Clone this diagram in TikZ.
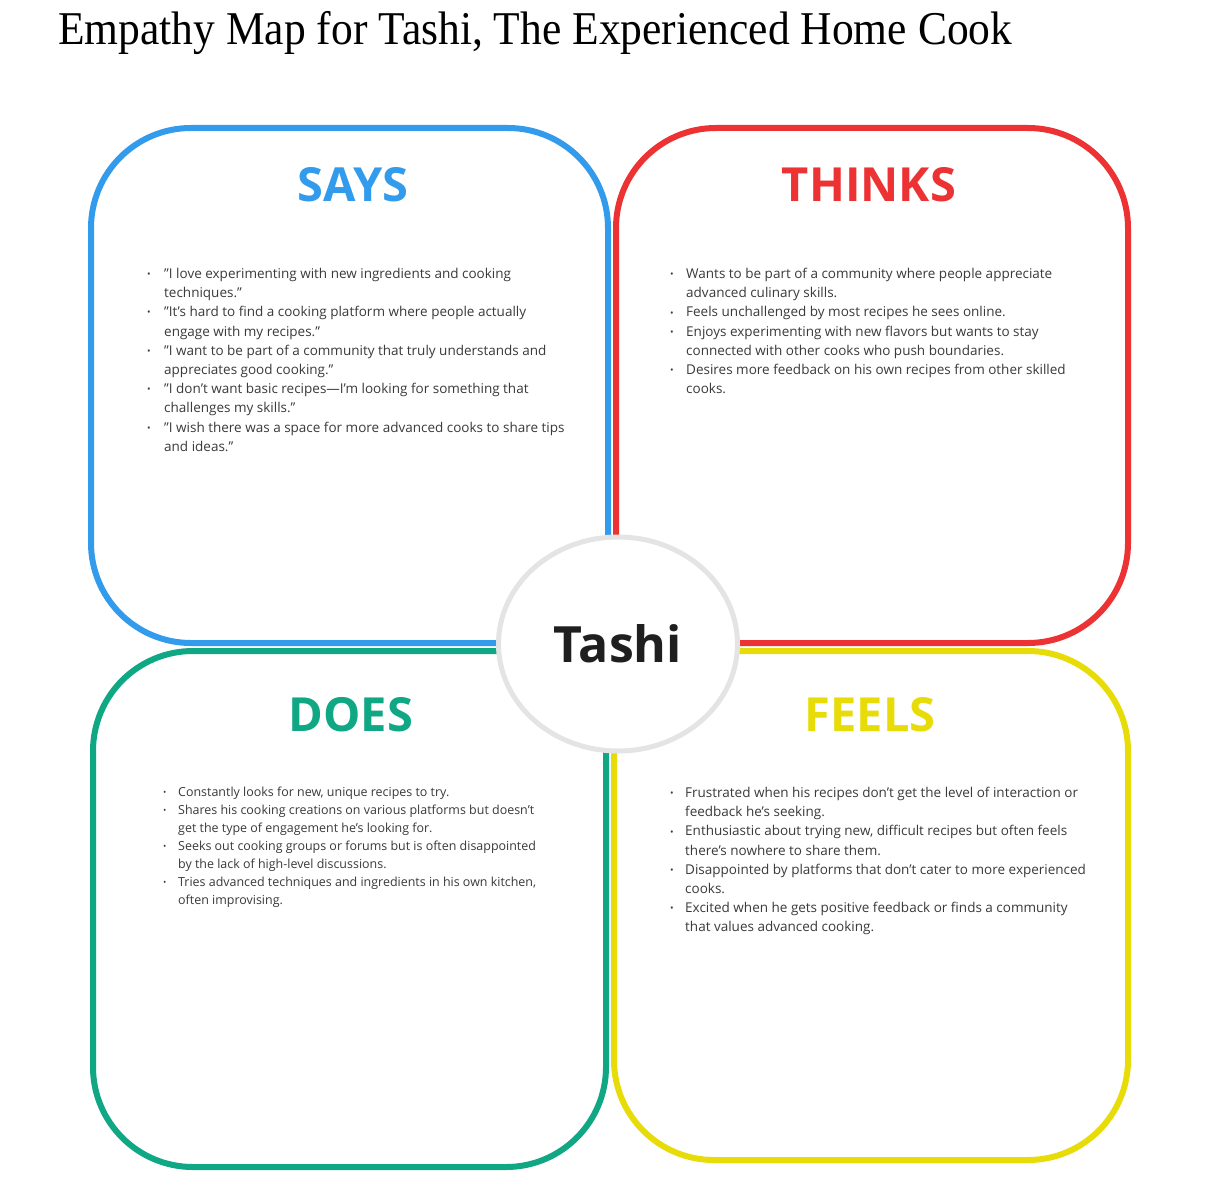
\documentclass[tikz,border=0pt]{standalone}
\usepackage{fontspec}
\usepackage{graphicx}
\usetikzlibrary{shapes.geometric}
\setmainfont{Open Sans}[Ligatures=ResetAll]
\newfontfamily\titlefont{Liberation Serif}

\definecolor{saysblue}{RGB}{51,155,236}
\definecolor{thinksred}{RGB}{236,50,50}
\definecolor{doesgreen}{RGB}{16,167,133}
\definecolor{feelsyellow}{RGB}{232,220,8}
\definecolor{bodygray}{RGB}{58,58,58}
\definecolor{ringgray}{RGB}{228,228,228}

% bullet and continuation indent for the lists
\newcommand\mapbul[1]{\makebox[#1][l]{\raisebox{0.12ex}{\scalebox{0.7}{•}}}}
\newcommand\mapind[1]{\hspace*{#1}}

\begin{document}
\begin{tikzpicture}[x=1pt,y=-1pt,
  quad/.style={line width=6pt, rounded corners=100pt},
  heading/.style={inner sep=0pt, font=\fontsize{47}{47}\selectfont\bfseries},
  body/.style={inner sep=0pt, anchor=north west, align=left, text=bodygray,
               font=\fontsize{13.5}{19.2}\selectfont},
  smallbody/.style={body, font=\fontsize{12.45}{17.9}\selectfont}
]
\useasboundingbox[fill=white] (0,0) rectangle (1228,1180);

% title
\node[anchor=base west, inner sep=0pt] (title) at (58,45)
  {\resizebox{954pt}{\height}{\titlefont\fontsize{47}{50}\selectfont Empathy Map for Tashi, The Experienced Home Cook}};

% the four quadrants
\draw[quad, saysblue]    (91,128)  rectangle (608,643);
\draw[quad, thinksred]   (616,128) rectangle (1128,643);
\draw[quad, doesgreen]   (93,651)  rectangle (606,1167);
\draw[quad, feelsyellow] (614,651) rectangle (1128,1160);

% centre
\node[draw=ringgray, line width=5pt, fill=white, ellipse, minimum width=239pt,
      minimum height=214pt, inner sep=0pt, font=\fontsize{50}{50}\selectfont\bfseries,
      text=black!88] (tashi) at (618,644) {Tashi};

% headings
\node[heading, text=saysblue]    (says)   at (353,185) {SAYS};
\node[heading, text=thinksred]   (thinks) at (869,185) {THINKS};
\node[heading, text=doesgreen]   (does)   at (351,715) {DOES};
\node[heading, text=feelsyellow] (feels)  at (870,715) {FEELS};

% lists
\node[body] (saystext) at (147,268) {%
\mapbul{17pt}"I love experimenting with new ingredients and cooking\\
\mapind{17pt}techniques."\\
\mapbul{17pt}"It’s hard to find a cooking platform where people actually\\
\mapind{17pt}engage with my recipes."\\
\mapbul{17pt}"I want to be part of a community that truly understands and\\
\mapind{17pt}appreciates good cooking."\\
\mapbul{17pt}"I don’t want basic recipes—I'm looking for something that\\
\mapind{17pt}challenges my skills."\\
\mapbul{17pt}"I wish there was a space for more advanced cooks to share tips\\
\mapind{17pt}and ideas."};

\node[body] (thinkstext) at (670,268) {%
\mapbul{16pt}Wants to be part of a community where people appreciate\\
\mapind{16pt}advanced culinary skills.\\
\mapbul{16pt}Feels unchallenged by most recipes he sees online.\\
\mapbul{16pt}Enjoys experimenting with new flavors but wants to stay\\
\mapind{16pt}connected with other cooks who push boundaries.\\
\mapbul{16pt}Desires more feedback on his own recipes from other skilled\\
\mapind{16pt}cooks.};

\node[smallbody] (doestext) at (163,787) {%
\mapbul{15pt}Constantly looks for new, unique recipes to try.\\
\mapbul{15pt}Shares his cooking creations on various platforms but doesn’t\\
\mapind{15pt}get the type of engagement he’s looking for.\\
\mapbul{15pt}Seeks out cooking groups or forums but is often disappointed\\
\mapind{15pt}by the lack of high-level discussions.\\
\mapbul{15pt}Tries advanced techniques and ingredients in his own kitchen,\\
\mapind{15pt}often improvising.};

\node[body] (feelstext) at (670,787) {%
\mapbul{15pt}Frustrated when his recipes don’t get the level of interaction or\\
\mapind{15pt}feedback he’s seeking.\\
\mapbul{15pt}Enthusiastic about trying new, difficult recipes but often feels\\
\mapind{15pt}there’s nowhere to share them.\\
\mapbul{15pt}Disappointed by platforms that don’t cater to more experienced\\
\mapind{15pt}cooks.\\
\mapbul{15pt}Excited when he gets positive feedback or finds a community\\
\mapind{15pt}that values advanced cooking.};
\end{tikzpicture}
\end{document}
